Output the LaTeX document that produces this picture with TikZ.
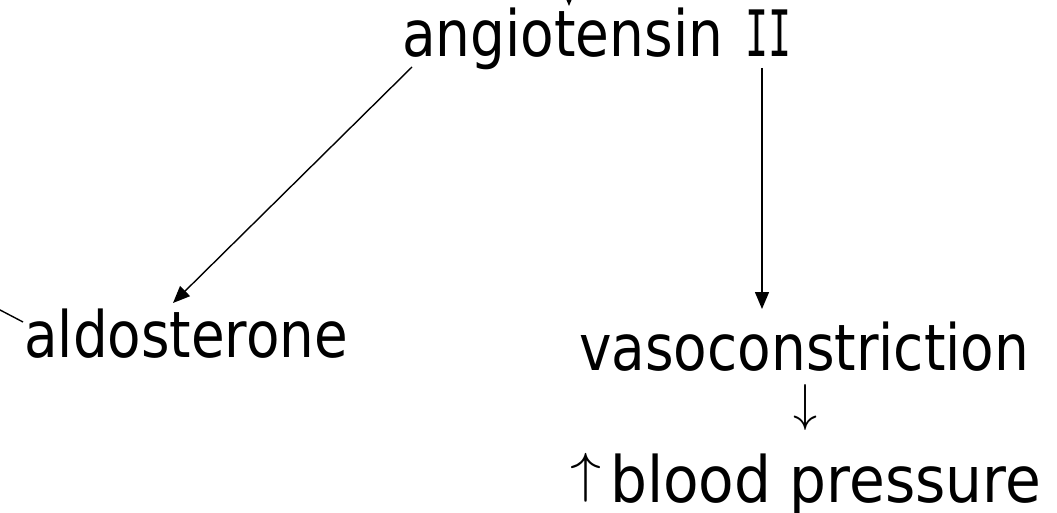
\documentclass[tikz,border=0pt]{standalone}
\usepackage{fontspec}
\setmainfont{DejaVu Sans}
\newfontfamily\serifI{DejaVu Sans Mono}
\usetikzlibrary{arrows.meta}
\newcommand\fitw[2]{\resizebox{#1}{\height}{#2}}
\tikzset{
  lbl/.style={inner sep=0pt, anchor=base west, font=\fontsize{64}{70}\selectfont},
  conn/.style={line width=1.4pt, -{Triangle[length=17pt,width=14pt]}},
  plain/.style={line width=1.4pt}
}
\begin{document}
\begin{tikzpicture}[x=1pt,y=1pt]
\useasboundingbox (0,0) rectangle (1057,512);
\node[lbl] (ang) at (402,455) {\fitw{321pt}{angiotensin}\hspace{22pt}\fitw{46pt}{\serifI II}};
\node[lbl] (ald) at (24,155) {\fitw{324pt}{aldosterone}};
\node[lbl] (vaso) at (579,142) {\fitw{450pt}{vasoconstriction}};
\node[inner sep=0pt] (down) at (805,104) {\resizebox*{24pt}{46pt}{$\downarrow$}};
\node[inner sep=0pt, anchor=south west] (up) at (570,10) {\resizebox*{31pt}{49pt}{$\uparrow$}};
\node[lbl] (bp) at (610,10) {\fitw{431pt}{blood pressure}};
% named connector ends
\coordinate (a1) at (412,445);
\coordinate (a2) at (173,209);
\coordinate (v1) at (762,444);
\coordinate (v2) at (762,203);
\coordinate (topsrc) at (569,560);
\coordinate (toptip) at (569,506);
\coordinate (lsrc) at (-40,223);
\coordinate (lend) at (23,190);
\draw[conn] (a1) -- (a2);
\draw[conn] (v1) -- (v2);
\draw[conn] (topsrc) -- (toptip);
\draw[plain] (lsrc) -- (lend);
\end{tikzpicture}
\end{document}
